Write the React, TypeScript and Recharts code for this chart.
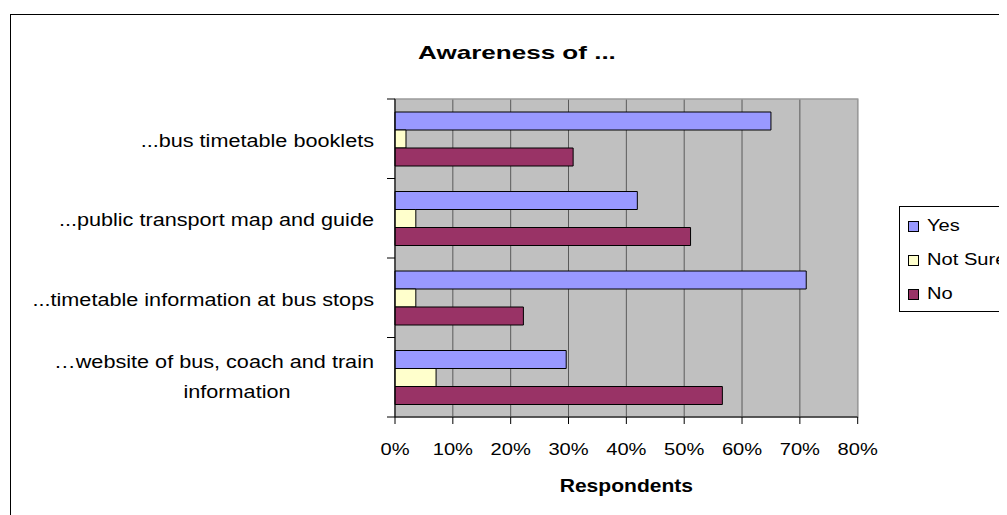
import React from "react";
import {
  BarChart,
  Bar,
  XAxis,
  YAxis,
  CartesianGrid,
  Legend,
  ReferenceArea,
} from "recharts";

// ---- data ----
const categoryLines: string[][] = [
  ["...bus timetable booklets"],
  ["...public transport map and guide"],
  ["...timetable information at bus stops"],
  ["…website of bus, coach and train", "information"],
];
const categories = categoryLines.map((l) => l.join(" "));
const yesValues = [65.0, 41.9, 71.1, 29.6];
const notSureValues = [1.9, 3.6, 3.6, 7.1];
const noValues = [30.8, 51.1, 22.2, 56.6];
const xTicks = [0, 10, 20, 30, 40, 50, 60, 70, 80];
const seriesNames = ["Yes", "Not Sure", "No"];
const seriesColors = ["#9999FF", "#FFFFCC", "#993366"];

const data = categories.map((name, i) => ({
  name,
  Yes: yesValues[i],
  "Not Sure": notSureValues[i],
  No: noValues[i],
}));

// ---- layout ----
const W = 999;
const H = 507;
const FONT = "'Liberation Sans', Arial, Helvetica, sans-serif";
const SX = 1.17;
const Y_TICK_SIZE = 8;
const Y_TICK_MARGIN = 13;
const X_TICK_SIZE = 7;
const X_TICK_MARGIN = 2;

function CategoryTick(props: any) {
  const { x, y, payload, index, visibleTicksCount } = props;
  const half = payload && payload.offset ? payload.offset : 39.75;
  const axisX = x + Y_TICK_SIZE + Y_TICK_MARGIN;
  const lines = categoryLines[index] || [String(payload.value)];
  const isLast = index === visibleTicksCount - 1;
  return (
    <g>
      <line x1={axisX - Y_TICK_SIZE} x2={axisX} y1={y - half} y2={y - half} stroke="#000" strokeWidth={1} />
      {isLast && (
        <line x1={axisX - Y_TICK_SIZE} x2={axisX} y1={y + half} y2={y + half} stroke="#000" strokeWidth={1} />
      )}
      {lines.length === 1 ? (
        <text
          transform={`translate(${x},${y + 8}) scale(${SX},1)`}
          textAnchor="end"
          fontSize={18.5}
          fontFamily={FONT}
          fill="#000"
        >
          {lines[0]}
        </text>
      ) : (
        <g>
          <text
            transform={`translate(${x},${y - 9}) scale(${SX},1)`}
            textAnchor="end"
            fontSize={18.5}
            fontFamily={FONT}
            fill="#000"
          >
            {lines[0]}
          </text>
          <text
            transform={`translate(${x - 137},${y + 21}) scale(${SX},1)`}
            textAnchor="middle"
            fontSize={18.5}
            fontFamily={FONT}
            fill="#000"
          >
            {lines[1]}
          </text>
        </g>
      )}
    </g>
  );
}

function PercentTick(props: any) {
  const { x, y, payload } = props;
  return (
    <text
      transform={`translate(${x},${y + 29}) scale(${SX},1)`}
      textAnchor="middle"
      fontSize={17.2}
      fontFamily={FONT}
      fill="#000"
    >
      {`${payload.value}%`}
    </text>
  );
}

function AxisTitle(props: any) {
  const vb = props.viewBox || { x: 0, y: 0, width: 0, height: 0 };
  return (
    <text
      transform={`translate(${vb.x + vb.width / 2},${vb.y + 74.7}) scale(${SX},1)`}
      textAnchor="middle"
      fontSize={18}
      fontWeight="bold"
      fontFamily={FONT}
      fill="#000"
    >
      Respondents
    </text>
  );
}

function LegendBox(props: any) {
  const raw = props.payload || [];
  const payload = seriesNames
    .map((n) => raw.find((p: any) => p.value === n))
    .filter(Boolean);
  return (
    <div
      style={{
        position: "relative",
        width: 130,
        height: 106,
        border: "1px solid #000",
        background: "#fff",
        boxSizing: "border-box",
        fontFamily: FONT,
      }}
    >
      {payload.map((p: any, i: number) => (
        <div key={p.value} style={{ position: "absolute", left: 0, top: 8 + i * 34, height: 20, width: 130 }}>
          <div
            style={{
              position: "absolute",
              left: 8,
              top: 6,
              width: 9,
              height: 9,
              background: p.color,
              border: "1px solid #000",
            }}
          />
          <div
            style={{
              position: "absolute",
              left: 27,
              top: 0,
              fontSize: 17.2,
              lineHeight: "20px",
              whiteSpace: "nowrap",
              transform: `scaleX(${SX})`,
              transformOrigin: "left center",
              color: "#000",
            }}
          >
            {p.value}
          </div>
        </div>
      ))}
    </div>
  );
}

export default function App() {
  return (
    <div style={{ position: "relative", width: W, height: H, overflow: "hidden", background: "#fff" }}>
      <div
        style={{
          position: "absolute",
          left: 2,
          top: 6,
          width: 1200,
          height: 700,
          border: "1px solid #000",
          boxSizing: "border-box",
        }}
      />
      <div
        style={{
          position: "absolute",
          left: 308.5,
          top: 35.2,
          width: 400,
          textAlign: "center",
          fontFamily: FONT,
          fontWeight: "bold",
          fontSize: 19,
          lineHeight: "19px",
          transform: "scaleX(1.37)",
          transformOrigin: "center center",
          color: "#000",
          whiteSpace: "nowrap",
        }}
      >
        Awareness of ...
      </div>
      <div style={{ position: "absolute", left: 0, top: 0 }}>
        <BarChart
          width={W}
          height={H}
          data={data}
          layout="vertical"
          margin={{ top: 91, right: 149.3, bottom: 38, left: 0 }}
          barGap={0}
          barSize={18}
        >
          <CartesianGrid
            horizontal={false}
            vertical={true}
            fill="#C0C0C0"
            fillOpacity={1}
            stroke="#5a5a5a"
            strokeWidth={1}
          />
          <XAxis
            type="number"
            domain={[0, 80]}
            ticks={xTicks}
            interval={0}
            height={60}
            axisLine={{ stroke: "#000" }}
            tickLine={{ stroke: "#000" }}
            tickSize={X_TICK_SIZE}
            tickMargin={X_TICK_MARGIN}
            tick={<PercentTick />}
            label={<AxisTitle />}
          />
          <YAxis
            type="category"
            dataKey="name"
            width={387}
            axisLine={{ stroke: "#000" }}
            tickLine={false}
            tickSize={Y_TICK_SIZE}
            tickMargin={Y_TICK_MARGIN}
            interval={0}
            tick={<CategoryTick />}
          />
          <ReferenceArea x1={0} x2={80} fill="none" stroke="#9a9a9a" strokeWidth={1.5} ifOverflow="visible" />
          {seriesNames.map((s, i) => (
            <Bar
              key={s}
              dataKey={s}
              fill={seriesColors[i]}
              stroke="#000"
              strokeWidth={1}
              isAnimationActive={false}
            />
          ))}
          <Legend
            layout="horizontal"
            verticalAlign="middle"
            align="center"
            wrapperStyle={{ left: 891.3, top: 197.7, width: 130 }}
            content={<LegendBox />}
          />
        </BarChart>
      </div>
    </div>
  );
}
